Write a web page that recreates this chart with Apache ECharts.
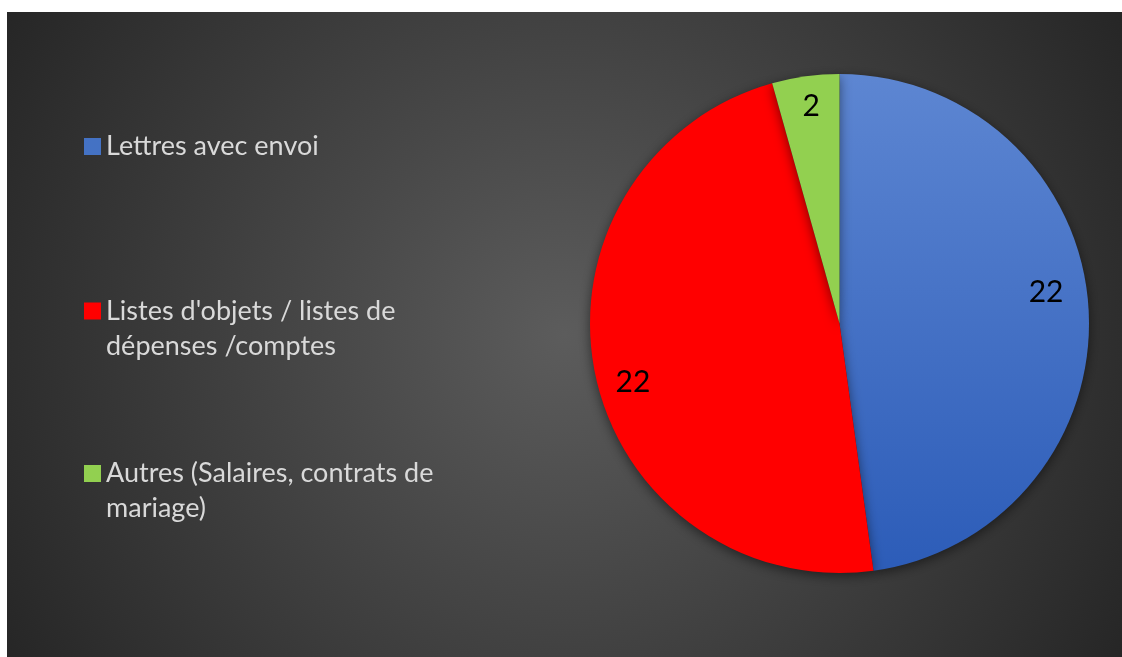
<!DOCTYPE html>
<html><head><meta charset="utf-8">
<script src="https://cdn.jsdelivr.net/npm/echarts@6/dist/echarts.min.js"></script>
<style>html,body{margin:0;padding:0;background:#fff;width:1122px;height:657px;overflow:hidden}
#c{position:absolute;left:7px;top:12px;width:1115px;height:645px}</style>
</head><body><div id="c"></div>
<script>
const categories = ["Lettres avec envoi", "Listes d'objets / listes de\ndépenses /comptes", "Autres (Salaires, contrats de\nmariage)"];
const values = [22, 22, 2];
const colors = ["#4472c4", "#ff0000", "#92d050"];

const chart = echarts.init(document.getElementById('c'));
const cx = 832.5, cy = 311.5, R = 249.5;
const blueGrad = new echarts.graphic.LinearGradient(0, cy - R, 0, cy + R, [
  {offset: 0, color: '#5d86d2'}, {offset: 1, color: '#2c5cb8'}], true);
const fills = [blueGrad, colors[1], colors[2]];
const labelShift = [[-8, -16], [4, 15], [1, -4]];
const data = categories.map((n, i) => ({name: n, value: values[i], itemStyle: {color: fills[i]}}));
const font = 'Lato, "Open Sans", sans-serif';
function leg(i, top) {
  return {
    show: true, left: 77, top: top, padding: 0, orient: 'vertical',
    icon: 'rect', itemWidth: 17, itemHeight: 17, itemGap: 0,
    data: [{name: categories[i], itemStyle: {color: colors[i]}}],
    selectedMode: false,
    formatter: n => n.indexOf('\n') >= 0 ? '\n' + n : n,
    textStyle: {color: '#d9d9d9', fontSize: 27, fontFamily: font, lineHeight: 35}
  };
}
chart.setOption({
  animation: false,
  backgroundColor: new echarts.graphic.RadialGradient(0.5, 0.5, 1, [
    {offset: 0, color: '#5c5c5c'}, {offset: 1, color: '#262626'}]),
  legend: [leg(0, 117), leg(1, 246.5), leg(2, 409)],
  series: [{
    type: 'pie', center: [cx, cy], radius: [0, R], startAngle: 90, clockwise: true,
    data: data, label: {show: false}, labelLine: {show: false},
    itemStyle: {shadowBlur: 12, shadowColor: 'rgba(0,0,0,0.5)', shadowOffsetY: 3},
    emphasis: {disabled: true}
  }, {
    type: 'pie', center: [cx, cy], radius: [R * 0.7, R], startAngle: 90, clockwise: true,
    data: categories.map((n, i) => ({name: n, value: values[i], label: {offset: labelShift[i]}})),
    itemStyle: {color: 'rgba(0,0,0,0)'}, silent: true,
    label: {show: true, position: 'inside', formatter: '{c}', color: '#000', fontSize: 30, fontFamily: font},
    labelLine: {show: false}, emphasis: {disabled: true}
  }]
});
</script></body></html>
